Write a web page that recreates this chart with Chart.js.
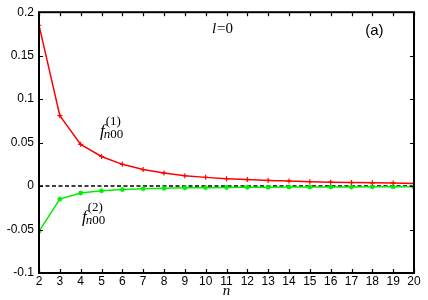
<!DOCTYPE html>
<html>
<head>
<meta charset="utf-8">
<script src="https://cdn.jsdelivr.net/npm/chart.js@4.4.0/dist/chart.umd.min.js"></script>
<style>
  html, body { margin: 0; padding: 0; background: #fff; }
  #wrap { width: 428px; height: 300px; }
</style>
</head>
<body>
<div id="wrap"><canvas id="chart" width="428" height="300"></canvas></div>
<script>
// data
const nValues = [2, 3, 4, 5, 6, 7, 8, 9, 10, 11, 12, 13, 14, 15, 16, 17, 18, 19, 20];
const f1Values = [0.185, 0.081, 0.048, 0.034, 0.025, 0.019, 0.015, 0.012, 0.010, 0.0085,
                  0.0075, 0.0065, 0.0057, 0.005, 0.0045, 0.004, 0.0037, 0.0034, 0.003];
const f2Values = [-0.052, -0.015, -0.008, -0.0055, -0.004, -0.003, -0.0025, -0.002, -0.0018, -0.0016,
                  -0.0014, -0.0013, -0.0012, -0.0011, -0.001, -0.001, -0.0009, -0.0009, -0.0008];
const yTickValues = [-0.1, -0.05, 0, 0.05, 0.1, 0.15, 0.2];
const yTickLabels = ['-0.1', '-0.05', '0', '0.05', '0.1', '0.15', '0.2'];

const toPoints = vals => vals.map((v, i) => ({ x: nValues[i], y: v }));

// frame + inward ticks on all four sides
const framePlugin = {
    id: 'frame',
    afterDraw(chart) {
        const { ctx, chartArea: a, scales } = chart;
        const len = 4;
        ctx.save();
        ctx.strokeStyle = '#000';
        ctx.lineWidth = 1.2;
        ctx.beginPath();
        nValues.forEach(n => {
            const px = Math.round(scales.x.getPixelForValue(n)) + 0.5;
            ctx.moveTo(px, a.bottom); ctx.lineTo(px, a.bottom - len);
            ctx.moveTo(px, a.top); ctx.lineTo(px, a.top + len);
        });
        yTickValues.forEach(v => {
            const py = Math.round(scales.y.getPixelForValue(v)) + 0.5;
            ctx.moveTo(a.left, py); ctx.lineTo(a.left + len, py);
            ctx.moveTo(a.right, py); ctx.lineTo(a.right - len, py);
        });
        ctx.stroke();
        ctx.lineWidth = 2;
        ctx.strokeRect(a.left, a.top, a.right - a.left, a.bottom - a.top);
        ctx.restore();
    }
};

// text annotations placed in data coordinates
const labelPlugin = {
    id: 'labels',
    afterDraw(chart) {
        const { ctx, scales } = chart;
        const px = v => scales.x.getPixelForValue(v);
        const py = v => scales.y.getPixelForValue(v);
        ctx.save();
        ctx.fillStyle = '#000';
        ctx.textBaseline = 'alphabetic';

        // l=0
        ctx.textAlign = 'left';
        let x = px(10.3), y = py(0.176);
        ctx.font = 'italic 15px "Liberation Serif", serif';
        ctx.fillText('l', x, y);
        x += ctx.measureText('l').width + 1;
        ctx.font = '15px "Liberation Serif", serif';
        ctx.fillText('=0', x, y);

        // (a)
        ctx.font = '15px "Liberation Sans", sans-serif';
        ctx.textAlign = 'center';
        ctx.fillText('(a)', px(18.1), py(0.174));

        drawF(ctx, px(4.93), py(0.058), '(1)');
        drawF(ctx, px(4.06), py(-0.041), '(2)');
        ctx.restore();
    }
};

function drawF(ctx, x, y, sup) {
    ctx.textAlign = 'left';
    ctx.font = 'italic 17px "Liberation Serif", serif';
    ctx.fillText('f', x, y);
    const w = ctx.measureText('f').width;
    ctx.font = '13px "Liberation Serif", serif';
    ctx.fillText(sup, x + w + 1, y - 11);
    ctx.font = 'italic 13px "Liberation Serif", serif';
    ctx.fillText('n', x + w - 1, y + 2);
    const wn = ctx.measureText('n').width;
    ctx.font = '13px "Liberation Serif", serif';
    ctx.fillText('00', x + w - 1 + wn, y + 2);
}

new Chart(document.getElementById('chart'), {
    type: 'line',
    data: {
        datasets: [
            {
                label: 'zero',
                data: [{ x: nValues[0], y: 0 }, { x: nValues[nValues.length - 1], y: 0 }],
                borderColor: '#000',
                borderWidth: 1.5,
                borderDash: [4, 2.5],
                pointRadius: 0,
                order: 3
            },
            {
                label: 'f1',
                data: toPoints(f1Values),
                borderColor: '#ff0000',
                backgroundColor: '#ff0000',
                borderWidth: 1.5,
                pointStyle: 'cross',
                pointRadius: 2.5,
                pointBorderWidth: 1.2,
                tension: 0,
                order: 1
            },
            {
                label: 'f2',
                data: toPoints(f2Values),
                borderColor: '#00ee00',
                backgroundColor: '#00ee00',
                borderWidth: 1.5,
                pointStyle: 'star',
                pointRadius: 2.5,
                pointBorderWidth: 1.2,
                tension: 0,
                order: 2
            }
        ]
    },
    options: {
        responsive: false,
        animation: false,
        events: [],
        layout: { padding: { top: 10, right: 14, left: 0, bottom: 0 } },
        plugins: { legend: { display: false }, tooltip: { enabled: false } },
        scales: {
            x: {
                type: 'linear',
                min: 2,
                max: 20,
                grid: { display: false, drawTicks: false },
                border: { display: false },
                afterBuildTicks(s) { s.ticks = nValues.map(v => ({ value: v })); },
                ticks: {
                    color: '#000',
                    padding: 1,
                    maxRotation: 0,
                    autoSkip: false,
                    font: { family: '"Liberation Sans", sans-serif', size: 12 },
                    callback: v => String(v)
                },
                title: {
                    display: true,
                    text: 'n',
                    color: '#000',
                    padding: 0,
                    font: { family: '"Liberation Serif", serif', size: 15, style: 'italic' }
                },
                afterFit(s) { s.height = 27; }
            },
            y: {
                type: 'linear',
                min: -0.1,
                max: 0.2,
                grid: { display: false, drawTicks: false },
                border: { display: false },
                afterBuildTicks(s) { s.ticks = yTickValues.map(v => ({ value: v })); },
                ticks: {
                    color: '#000',
                    padding: 5,
                    font: { family: '"Liberation Sans", sans-serif', size: 12 },
                    callback: (v, i) => yTickLabels[i]
                },
                afterFit(s) { s.width = 39; }
            }
        }
    },
    plugins: [framePlugin, labelPlugin]
});
</script>
</body>
</html>
